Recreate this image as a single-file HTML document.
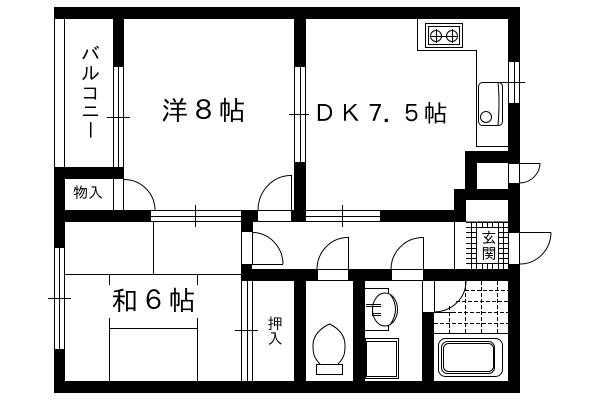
<!DOCTYPE html>
<html><head><meta charset="utf-8"><style>
html,body{margin:0;padding:0;background:#fff}
svg{display:block}
text{font-family:"IPAGothic","Liberation Sans","Noto Sans CJK JP",sans-serif;fill:#000;text-anchor:middle}
.k{fill:#000;stroke:none}
.l{fill:none;stroke:#000;stroke-width:1;shape-rendering:crispEdges}
.c{fill:none;stroke:#000;stroke-width:1}
.d{fill:none;stroke:#000;stroke-width:1;stroke-dasharray:4 2;shape-rendering:crispEdges}
</style></head><body>
<svg width="600" height="400" viewBox="0 0 600 400" xmlns="http://www.w3.org/2000/svg">
<rect width="600" height="400" fill="#fff"/>
<g class="k" shape-rendering="crispEdges">
<rect x="54" y="7" width="466" height="12"/>
<rect x="113" y="19" width="11" height="48"/>
<rect x="54" y="167" width="70" height="12"/>
<rect x="54" y="167" width="11" height="81"/>
<rect x="54" y="349" width="11" height="44"/>
<rect x="54" y="381" width="466" height="12"/>
<rect x="294" y="19" width="12" height="48"/>
<rect x="294" y="162" width="12" height="60"/>
<rect x="508" y="7" width="12" height="55"/>
<rect x="508" y="103" width="12" height="48"/>
<rect x="465" y="151" width="55" height="12"/>
<rect x="465" y="151" width="12" height="49"/>
<rect x="508" y="183" width="12" height="50"/>
<rect x="454" y="189" width="66" height="11"/>
<rect x="454" y="189" width="12" height="33"/>
<rect x="380" y="210" width="86" height="12"/>
<rect x="508" y="264" width="12" height="129"/>
<rect x="54" y="210" width="97" height="12"/>
<rect x="241" y="210" width="17" height="12"/>
<rect x="291" y="210" width="15" height="12"/>
<rect x="241" y="222" width="11" height="10"/>
<rect x="241" y="264" width="11" height="17"/>
<rect x="241" y="269" width="76" height="12"/>
<rect x="348" y="269" width="43" height="12"/>
<rect x="423" y="269" width="97" height="12"/>
<rect x="294" y="281" width="12" height="100"/>
<rect x="353" y="281" width="12" height="100"/>
<rect x="422" y="312" width="12" height="69"/>
</g>
<path class="l" d="M54.5 19V167M64.5 19V167
M113.5 67V167M118.5 67V167M123.5 67V167M107 117.5H130
M294.5 67V162M300.5 67V162M305.5 67V162M289 114.5H309
M508.5 62V103M514.5 62V103M519.5 62V103M500 82.5H525
M54.5 248V349M59.5 248V349M64.5 248V349M48 298.5H71
M113.5 179V210M123.5 179V210
M151 210.5H241M151 216.5H241M151 221.5H241M195.5 205V227
M306 210.5H380M306 216.5H380M306 221.5H380M342.5 205V227
M258 210.5H291M258 221.5H454M291.5 175V210
M241.5 232V264M252.5 222V264M252 264.5H283
M241.5 281V381M247.5 281V381M252.5 281V381M235 330.5H258
M153.5 222V274M65 274.5H241M109.5 274V285M109.5 318V381M197.5 274V285M197.5 318V381M109 328.5H197
M348.5 237V269M317 269.5H348M317 280.5H348
M423.5 237V269M391 269.5H423M391 280.5H423M391.5 269V281M423.5 269V281M317.5 269V281M348.5 269V281
M454.5 222V269M466 222H508
M508.5 163V183M519.5 163V183M508 163.5H540M508 183.5H520
M508.5 233V264M519.5 233V264M508 232.5H551M508 264.5H520
M422.5 281V312M434.5 281V312M422 312.5H455
M417.5 19V50.5H476.5V146.5H508
M434 333.5H508
M365 288.5H388.5V293M388.5 325V330.5H365
"/>
<path class="l" d="M471.5 222V269M476.5 222V269M482.5 222V269M487.5 222V269M492.5 222V269M498.5 222V269M503.5 222V269
M466 222.5H508M466 227.5H508M466 232.5H508M466 237.5H508M466 243.5H508M466 248.5H508M466 253.5H508M466 258.5H508M466 263.5H508"/>
<rect x="477" y="228" width="21" height="35" fill="#fff"/>
<path class="d" d="M465.5 281V333M481.5 281V333M497.5 281V333M449.5 306V333
M465 290.5H508M456 301.5H508M440 312.5H508M434 323.5H508"/>
<path class="c" d="M124 179.5A31 31 0 0 1 155 210M291 175.5A33 35 0 0 0 258 210M252 232.5A31 32 0 0 1 283 264M348 237.5A31 32 0 0 0 317 269M423 237.5A32 32 0 0 0 391 269M540 163A21 20 0 0 1 520 183M551 232.5A31 32 0 0 1 520 264M466 281A32 31 0 0 1 434 312"/>
<!-- range -->
<rect class="l" x="425.5" y="23.5" width="37" height="24"/>
<rect class="l" x="428.5" y="26.5" width="31" height="18"/>
<circle class="c" cx="436" cy="36" r="5.5"/><circle class="c" cx="452" cy="36" r="5.5"/>
<path class="l" d="M430 36.5H458M436.5 29V43M452.5 29V43"/>
<!-- sink -->
<rect class="c" x="478.5" y="82.5" width="24" height="43" rx="4"/>
<path class="c" d="M498 82.5Q500 100 498 125.5"/>
<circle class="c" cx="486" cy="117" r="5.5"/>
<!-- basin -->
<ellipse class="c" cx="385" cy="309.5" rx="12.5" ry="16.5"/>
<path class="c" d="M390 294Q401 309 390 325"/>
<path class="l" d="M366 304.5H381M366 306.5H381M372.5 306V316M372 313.5H381M372 315.5H381"/>
<rect class="l" x="365.5" y="338.5" width="33" height="40"/>
<rect class="l" x="366.5" y="341.5" width="30" height="35"/>
<!-- tub -->
<rect class="c" x="438.5" y="338.5" width="64" height="38" rx="7"/>
<rect class="c" x="441.5" y="341.5" width="53" height="32" rx="6"/>
<rect class="c" x="443.5" y="343.5" width="50" height="28" rx="5"/>
<!-- toilet -->
<path class="c" d="M320 364C313 357 313 352 313 345C313 335 321 328 329.5 324C338 328 345 335 345 345C345 352 345 357 338 364"/>
<rect class="l" x="316.5" y="364.5" width="26" height="10"/>
<!-- text -->
<g font-size="27"><text x="174.5" y="120">洋</text><text x="203.5" y="120">８</text><text x="232" y="120">帖</text></g>
<g font-size="24"><text x="324.5" y="122">Ｄ</text><text x="350.5" y="122">Ｋ</text><text x="375.5" y="122">７</text><text x="388.5" y="122">.</text><text x="411.5" y="122">５</text><text x="435.5" y="122">帖</text></g>
<g font-size="27"><text x="124.5" y="310">和</text><text x="153.5" y="310">６</text><text x="182" y="310">帖</text></g>
<g font-size="19"><text x="90.5" y="61">バ</text><text x="90.5" y="80">ル</text><text x="90.5" y="100">コ</text><text x="90.5" y="118">ニ</text><text transform="rotate(90 90.5 130)" x="90.5" y="137">ー</text></g>
<text x="88" y="198" font-size="15">物入</text>
<g font-size="15"><text x="489" y="243">玄</text><text x="489" y="259">関</text></g>
<g font-size="15"><text x="275" y="329">押</text><text x="275" y="344">入</text></g>
</svg>
</body></html>
